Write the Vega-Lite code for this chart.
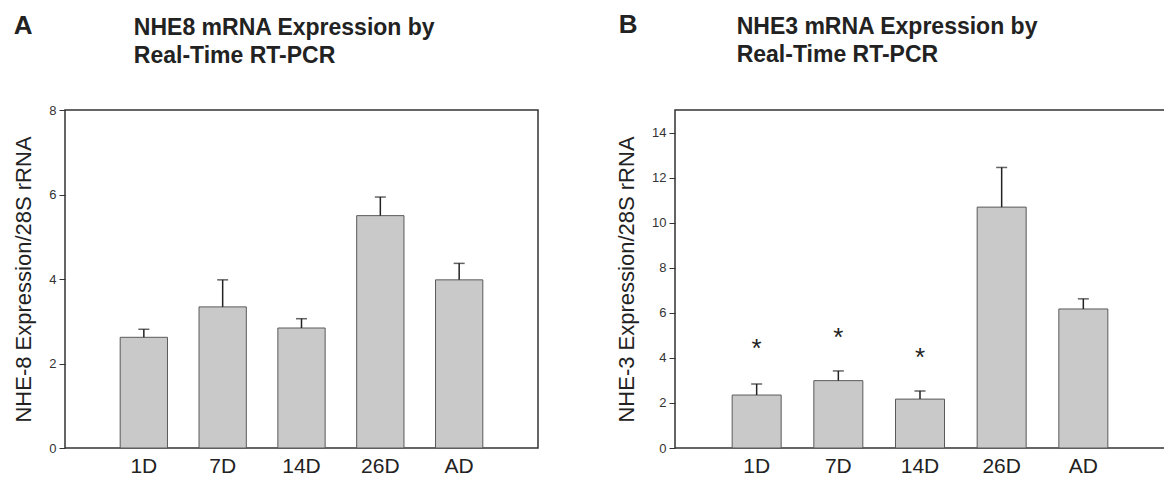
{
  "$schema": "https://vega.github.io/schema/vega-lite/v6.json",
  "padding": {"left": 12, "top": 11, "right": 0, "bottom": 0},
  "background": "white",
  "datasets": {
    "nhe8": [
      {"group": "1D", "mean": 2.62, "upper": 2.81},
      {"group": "7D", "mean": 3.34, "upper": 3.98},
      {"group": "14D", "mean": 2.84, "upper": 3.06},
      {"group": "26D", "mean": 5.5, "upper": 5.94},
      {"group": "AD", "mean": 3.98, "upper": 4.37}
    ],
    "nhe3": [
      {"group": "1D", "mean": 2.35, "upper": 2.84, "sig": "*", "sig_y": 4.6},
      {"group": "7D", "mean": 2.99, "upper": 3.42, "sig": "*", "sig_y": 5.1},
      {"group": "14D", "mean": 2.17, "upper": 2.53, "sig": "*", "sig_y": 4.2},
      {"group": "26D", "mean": 10.69, "upper": 12.45, "sig": "", "sig_y": 0},
      {"group": "AD", "mean": 6.17, "upper": 6.62, "sig": "", "sig_y": 0}
    ]
  },
  "spacing": 137,
  "bounds": "flush",
  "hconcat": [
    {
      "width": 473,
      "height": 338,
      "data": {"name": "nhe8"},
      "encoding": {
        "x": {"field": "group", "type": "nominal", "sort": null, "scale": {"paddingInner": 0.4, "paddingOuter": 0.7}, "axis": {"title": null}}
      },
      "layer": [
        {
          "mark": {"type": "bar", "fill": "#c9c9c9", "stroke": "#5a5a5a", "strokeWidth": 1},
          "encoding": {
            "y": {"field": "mean", "type": "quantitative", "scale": {"domain": [0, 8], "nice": false}, "axis": {"title": "NHE-8 Expression/28S rRNA", "values": [0, 2, 4, 6, 8]}}
          }
        },
        {
          "mark": {"type": "rule", "color": "#222", "strokeWidth": 1.5},
          "encoding": {"y": {"field": "mean", "type": "quantitative"}, "y2": {"field": "upper"}}
        },
        {
          "mark": {"type": "tick", "color": "#222", "size": 11, "thickness": 1.5, "orient": "horizontal"},
          "encoding": {"y": {"field": "upper", "type": "quantitative"}}
        },
        {
          "data": {"values": [{"label": "A"}]},
          "mark": {"type": "text", "font": "Liberation Sans", "fontWeight": "bold", "fontSize": 26, "color": "#222", "align": "left", "baseline": "alphabetic", "dx": -130},
          "encoding": {"x": {"datum": "1D"}, "y": {"datum": 9.8}, "text": {"field": "label"}}
        },
        {
          "data": {"values": [{"label": ["NHE8 mRNA Expression by", "Real-Time RT-PCR"]}]},
          "mark": {"type": "text", "font": "Liberation Sans", "fontWeight": "bold", "fontSize": 23, "lineHeight": 28, "color": "#222", "align": "left", "baseline": "alphabetic", "dx": -10},
          "encoding": {"x": {"datum": "1D"}, "y": {"datum": 9.775}, "text": {"field": "label"}}
        }
      ]
    },
    {
      "width": 490,
      "height": 338,
      "data": {"name": "nhe3"},
      "encoding": {
        "x": {"field": "group", "type": "nominal", "sort": null, "scale": {"paddingInner": 0.4, "paddingOuter": 0.7}, "axis": {"title": null}}
      },
      "layer": [
        {
          "mark": {"type": "bar", "fill": "#c9c9c9", "stroke": "#5a5a5a", "strokeWidth": 1},
          "encoding": {
            "y": {"field": "mean", "type": "quantitative", "scale": {"domain": [0, 15], "nice": false}, "axis": {"title": "NHE-3 Expression/28S rRNA", "values": [0, 2, 4, 6, 8, 10, 12, 14]}}
          }
        },
        {
          "mark": {"type": "rule", "color": "#222", "strokeWidth": 1.5},
          "encoding": {"y": {"field": "mean", "type": "quantitative"}, "y2": {"field": "upper"}}
        },
        {
          "mark": {"type": "tick", "color": "#222", "size": 11, "thickness": 1.5, "orient": "horizontal"},
          "encoding": {"y": {"field": "upper", "type": "quantitative"}}
        },
        {
          "mark": {"type": "text", "font": "Liberation Sans", "fontSize": 26, "color": "#222", "baseline": "middle", "dy": 5},
          "encoding": {"y": {"field": "sig_y", "type": "quantitative"}, "text": {"field": "sig"}}
        },
        {
          "data": {"values": [{"label": "B"}]},
          "mark": {"type": "text", "font": "Liberation Sans", "fontWeight": "bold", "fontSize": 26, "color": "#222", "align": "left", "baseline": "alphabetic", "dx": -138},
          "encoding": {"x": {"datum": "1D"}, "y": {"datum": 18.42}, "text": {"field": "label"}}
        },
        {
          "data": {"values": [{"label": ["NHE3 mRNA Expression by", "Real-Time RT-PCR"]}]},
          "mark": {"type": "text", "font": "Liberation Sans", "fontWeight": "bold", "fontSize": 23, "lineHeight": 28, "color": "#222", "align": "left", "baseline": "alphabetic", "dx": -20},
          "encoding": {"x": {"datum": "1D"}, "y": {"datum": 18.37}, "text": {"field": "label"}}
        }
      ]
    }
  ],
  "config": {
    "font": "Liberation Sans",
    "view": {"stroke": "#333", "strokeWidth": 1.5},
    "axisY": {"labelFont": "Liberation Sans", "labelFontSize": 13, "labelColor": "#333", "tickColor": "#333", "tickSize": 6, "domain": false, "grid": false, "labelPadding": 3, "titleFont": "Liberation Sans", "titleFontSize": 22, "titleFontWeight": "normal", "titleColor": "#222", "titlePadding": 13},
    "axisX": {"labelFont": "Liberation Sans", "labelFontSize": 21, "labelColor": "#222", "labelAngle": 0, "ticks": false, "domain": false, "grid": false, "labelPadding": 7}
  }
}
